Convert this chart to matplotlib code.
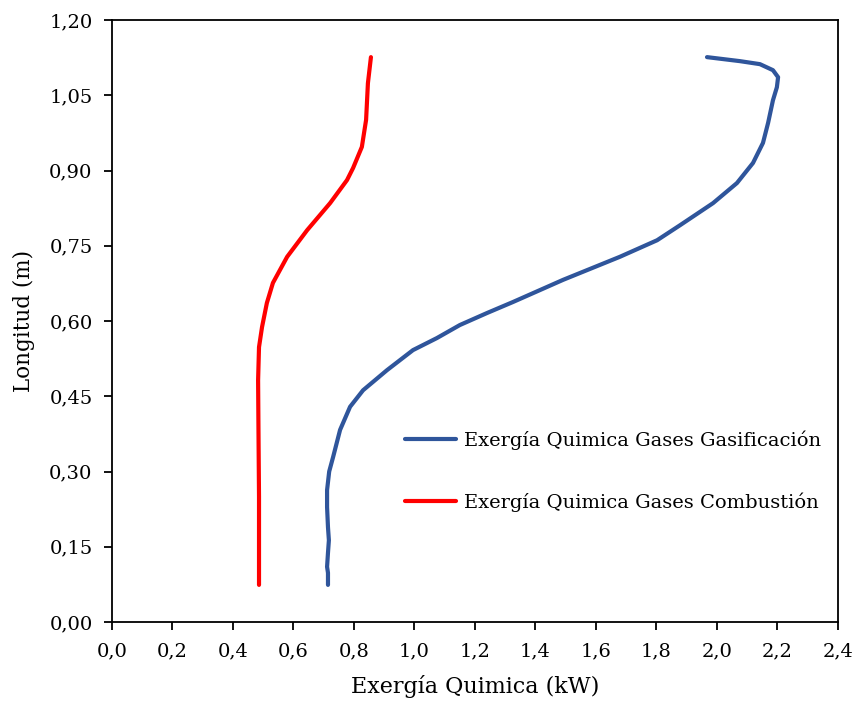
import numpy as np
import matplotlib
matplotlib.use("Agg")
import matplotlib.pyplot as plt
from matplotlib.ticker import FuncFormatter

# Curve data (x = exergia in kW, y = longitud in m)
gasif_x = [0.714, 0.714, 0.711, 0.714, 0.717, 0.714, 0.711, 0.711, 0.718, 0.731,
           0.754, 0.787, 0.830, 0.909, 0.995, 1.074, 1.150, 1.240, 1.326, 1.491,
           1.679, 1.802, 1.878, 1.987, 2.066, 2.119, 2.152, 2.169, 2.185, 2.198,
           2.202, 2.185, 2.142, 2.076, 1.967]
gasif_y = [0.074, 0.098, 0.110, 0.138, 0.163, 0.189, 0.229, 0.263, 0.300, 0.329,
           0.383, 0.429, 0.462, 0.502, 0.542, 0.566, 0.592, 0.616, 0.638, 0.682,
           0.728, 0.761, 0.791, 0.835, 0.875, 0.915, 0.955, 0.995, 1.040, 1.066,
           1.086, 1.100, 1.112, 1.118, 1.126]

comb_x = [0.486, 0.486, 0.484, 0.483, 0.486, 0.496, 0.512, 0.532, 0.579, 0.645,
          0.721, 0.777, 0.797, 0.826, 0.840, 0.846, 0.856]
comb_y = [0.074, 0.250, 0.400, 0.482, 0.548, 0.588, 0.636, 0.676, 0.728, 0.781,
          0.835, 0.881, 0.905, 0.947, 1.001, 1.074, 1.126]

x_ticks = np.arange(0, 2.41, 0.2)
y_ticks = np.arange(0, 1.21, 0.15)

plt.rcParams["font.family"] = ["DejaVu Serif"]

fig = plt.figure(figsize=(8.53, 7.07), dpi=100)
ax = fig.add_axes([0.1313, 0.1202, 0.8511, 0.8515])

ax.plot(gasif_x, gasif_y, color="#2f559b", lw=3, label="Exergía Quimica Gases Gasificación",
        solid_capstyle="round", solid_joinstyle="round")
ax.plot(comb_x, comb_y, color="#ff0000", lw=3, label="Exergía Quimica Gases Combustión",
        solid_capstyle="round", solid_joinstyle="round")

ax.set_xlim(0, 2.4)
ax.set_ylim(0, 1.2)
ax.set_xticks(x_ticks)
ax.set_yticks(y_ticks)
ax.xaxis.set_major_formatter(FuncFormatter(lambda v, p: f"{v:.1f}".replace(".", ",")))
ax.yaxis.set_major_formatter(FuncFormatter(lambda v, p: f"{v:.2f}".replace(".", ",")))
ax.tick_params(direction="out", length=6, width=1.3, labelsize=14)
ax.tick_params(axis="x", pad=9)
ax.tick_params(axis="y", pad=8)
for s in ax.spines.values():
    s.set_linewidth(1.3)

ax.set_xlabel("Exergía Quimica (kW)", fontsize=16, labelpad=10)
ax.set_ylabel("Longitud (m)", fontsize=15.5, labelpad=10)

ax.legend(loc="upper left", bbox_to_anchor=(0.38, 0.348), frameon=False,
          fontsize=14, handlelength=2.6, handletextpad=0.4, labelspacing=2.2)

fig.savefig("out.png", dpi=100)
